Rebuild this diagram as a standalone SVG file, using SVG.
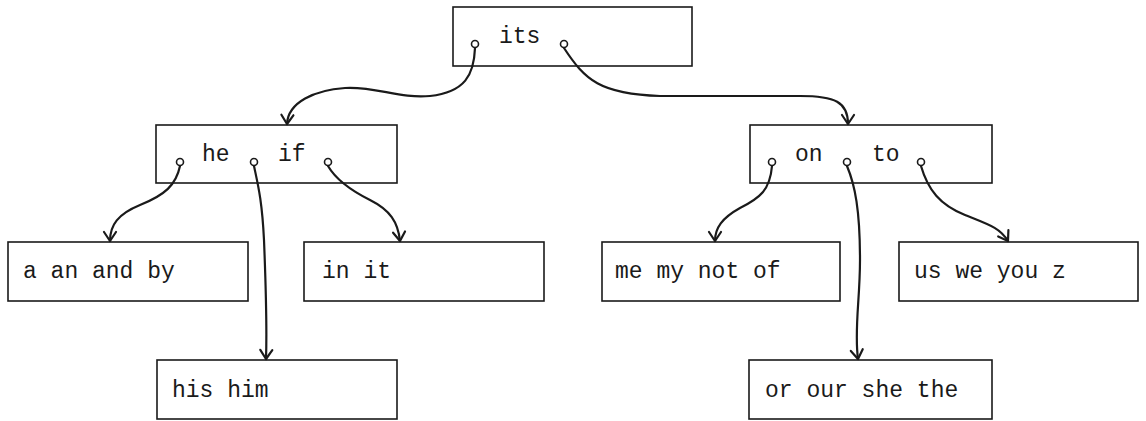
<svg xmlns="http://www.w3.org/2000/svg" width="1146" height="421" viewBox="0 0 1146 421">
  <defs>
    <style>
      .box { fill: #ffffff; stroke: #1a1a1a; stroke-width: 1.6; }
      .lbl { font-family: "Liberation Mono", "DejaVu Sans Mono", monospace; font-size: 23px; fill: #1a1a1a; }
      .link { fill: none; stroke: #1a1a1a; stroke-width: 2.2; stroke-linecap: round; marker-end: url(#head); }
      .ptr { fill: #ffffff; stroke: #1a1a1a; stroke-width: 1.6; }
    </style>
    <marker id="head" markerUnits="userSpaceOnUse" markerWidth="24" markerHeight="24" refX="0" refY="0" orient="auto" overflow="visible">
      <path d="M-9,-6 L0,0 L-9,6" fill="none" stroke="#1a1a1a" stroke-width="2.2" stroke-linecap="round" stroke-linejoin="round"/>
    </marker>
  </defs>

  <!-- root node -->
  <g id="node-its">
    <rect class="box" x="453" y="7" width="239" height="59"/>
    <text class="lbl" x="499" y="43">its</text>
  </g>

  <!-- second level -->
  <g id="node-he-if">
    <rect class="box" x="156" y="125" width="241" height="58"/>
    <text class="lbl" x="202" y="161">he</text>
    <text class="lbl" x="278" y="161">if</text>
  </g>
  <g id="node-on-to">
    <rect class="box" x="750" y="125" width="242" height="58"/>
    <text class="lbl" x="795" y="161">on</text>
    <text class="lbl" x="872" y="161">to</text>
  </g>

  <!-- leaves -->
  <g id="node-a-an-and-by">
    <rect class="box" x="8" y="242" width="240" height="59"/>
    <text class="lbl" x="23" y="278">a an and by</text>
  </g>
  <g id="node-in-it">
    <rect class="box" x="304" y="242" width="240" height="59"/>
    <text class="lbl" x="322" y="278">in it</text>
  </g>
  <g id="node-me-my-not-of">
    <rect class="box" x="602" y="242" width="238" height="59"/>
    <text class="lbl" x="615" y="278">me my not of</text>
  </g>
  <g id="node-us-we-you-z">
    <rect class="box" x="899" y="242" width="239" height="59"/>
    <text class="lbl" x="914" y="278">us we you z</text>
  </g>
  <g id="node-his-him">
    <rect class="box" x="157" y="360" width="240" height="59"/>
    <text class="lbl" x="172" y="397">his him</text>
  </g>
  <g id="node-or-our-she-the">
    <rect class="box" x="749" y="360" width="243" height="59"/>
    <text class="lbl" x="765" y="397">or our she the</text>
  </g>

  <!-- pointer links -->
  <g id="connectors">
    <path class="link" d="M475,48 C474,75 465,92 430,96 C400,99 375,86 345,88 C315,90 288,102 287,124"/>
    <path class="link" d="M564,48 C585,80 600,94 660,96 L800,96 C835,96 848,102 848,124"/>
    <path class="link" d="M180,166 C176,185 165,195 140,205 C118,214 110,225 110,241"/>
    <path class="link" d="M254,166 C258,185 262,200 264,240 C266,290 267,330 266,359"/>
    <path class="link" d="M328,166 C335,178 350,190 370,200 C390,210 398,222 400,241"/>
    <path class="link" d="M772,166 C770,190 760,198 740,208 C722,218 715,228 715,241"/>
    <path class="link" d="M847,166 C855,185 860,210 860,260 C860,300 854,330 858,359"/>
    <path class="link" d="M921,166 C928,190 940,205 965,215 C990,225 1000,228 1008,241"/>
    <!-- pointer origins -->
    <circle class="ptr" cx="475" cy="44" r="3.5"/>
    <circle class="ptr" cx="564" cy="44" r="3.5"/>
    <circle class="ptr" cx="180" cy="162" r="3.5"/>
    <circle class="ptr" cx="254" cy="162" r="3.5"/>
    <circle class="ptr" cx="328" cy="162" r="3.5"/>
    <circle class="ptr" cx="772" cy="162" r="3.5"/>
    <circle class="ptr" cx="847" cy="162" r="3.5"/>
    <circle class="ptr" cx="921" cy="162" r="3.5"/>
  </g>
</svg>
